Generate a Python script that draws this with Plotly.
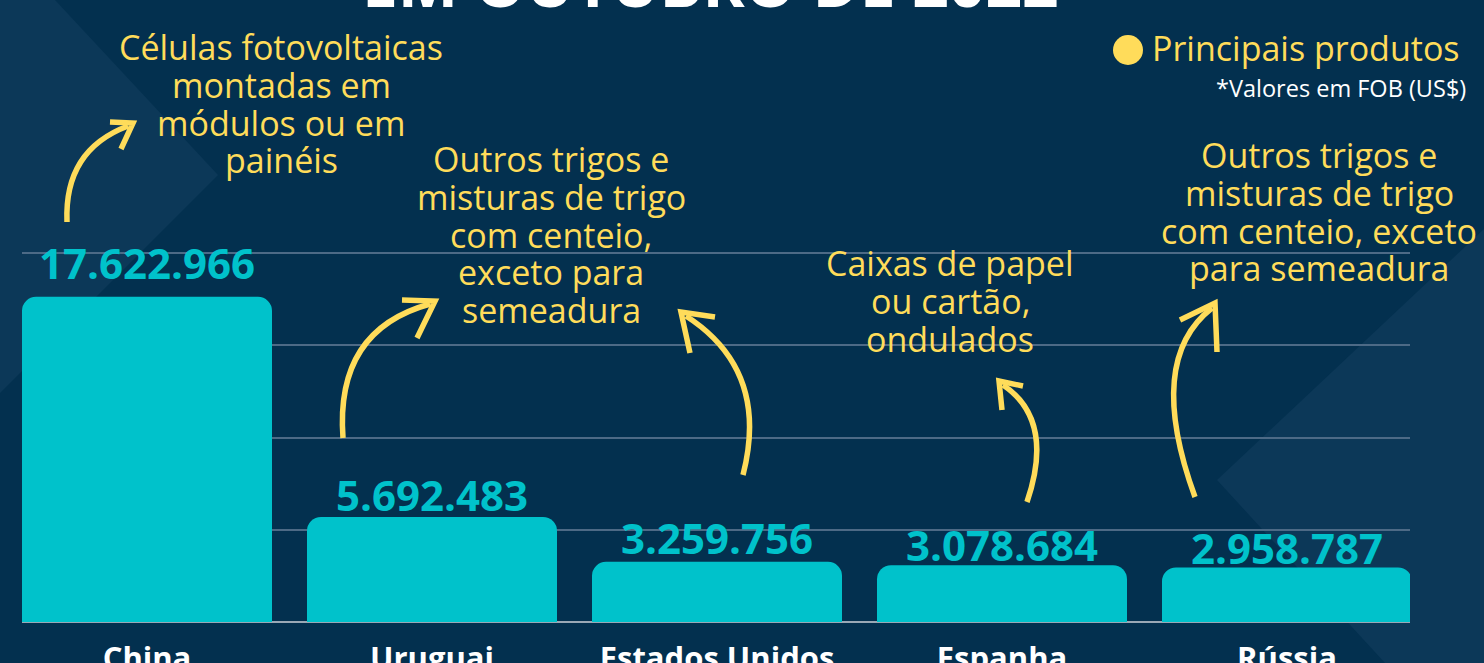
import plotly.graph_objects as go

# ---- data ----
countries = ["China", "Uruguai", "Estados Unidos", "Espanha", "Rússia"]
values_fob = [17622966, 5692483, 3259756, 3078684, 2958787]
products = [
    "Células fotovoltaicas<br>montadas em<br>módulos ou em<br>painéis",
    "Outros trigos e<br>misturas de trigo<br>com centeio,<br>exceto para<br>semeadura",
    "Caixas de papel<br>ou cartão,<br>ondulados",
    "Outros trigos e<br>misturas de trigo<br>com centeio, exceto<br>para semeadura",
]
grid_vals = [0, 5e6, 10e6, 15e6, 20e6]

# ---- styling / layout constants ----
W, H = 1484, 663
L, R, T, B = 22, 1410, 0, 622
BG = "#03304f"
BG_LIGHT = "#0c3858"
TEAL = "#00c2cb"
YELLOW = "#ffdc5a"
SLOT = 285.0           # px per category
PX_PER_M = 18.45       # px per million
FONT = "Open Sans"
label_lift = [34, 22, 24, 21, 20]   # px between bar top and value label centre

xr0 = -(147 - L) / SLOT
xr1 = xr0 + (R - L) / SLOT
yr1 = (B - T) / PX_PER_M * 1e6


def px(x):
    return (x - L) / (R - L)


def py(y):
    return (B - y) / (B - T)


def fmt_br(v):
    return f"{v:,.0f}".replace(",", ".")


fig = go.Figure()
fig.add_trace(go.Bar(
    x=list(range(len(countries))),
    y=values_fob,
    marker=dict(color=TEAL, cornerradius=14, line=dict(width=0)),
    hoverinfo="skip",
))

shapes = []
# background decorative polygons
bg_polys = [
    [(0, 0), (55, 0), (218, 175), (0, 393)],
    [(W, 229), (1217, 480), (1385, H), (W, H)],
]
for poly in bg_polys:
    d = "M " + " L ".join(f"{px(x)},{py(y)}" for x, y in poly) + " Z"
    shapes.append(dict(type="path", xref="paper", yref="paper", path=d,
                       fillcolor=BG_LIGHT, line=dict(width=0), layer="below"))

# curved arrows: (start, control, end), head (wing1, tip, wing2)
arrows = [
    ((67, 222), (64, 150), (128, 126), ((110, 122), (133, 123), (121, 149))),
    ((343, 438), (335, 330), (430, 304), ((402, 300), (435, 301), (417, 338))),
    ((743, 475), (770, 370), (686, 316), ((715, 317), (681, 312), (690, 353))),
    ((1027, 502), (1055, 420), (1003, 385), ((1023, 386), (999, 381), (1002, 410))),
    ((1195, 497), (1145, 360), (1212, 308), ((1180, 320), (1215, 303), (1217, 352))),
]
for p0, c, p1, head in arrows:
    d = f"M {px(p0[0])},{py(p0[1])} Q {px(c[0])},{py(c[1])} {px(p1[0])},{py(p1[1])}"
    shapes.append(dict(type="path", xref="paper", yref="paper", path=d,
                       line=dict(color=YELLOW, width=5.5)))
    w1, tip, w2 = head
    d = (f"M {px(w1[0])},{py(w1[1])} L {px(tip[0])},{py(tip[1])} "
         f"L {px(w2[0])},{py(w2[1])}")
    shapes.append(dict(type="path", xref="paper", yref="paper", path=d,
                       line=dict(color=YELLOW, width=5.5)))

# legend dot
shapes.append(dict(type="circle", xref="paper", yref="paper",
                   x0=px(1113), x1=px(1143), y0=py(65), y1=py(35),
                   fillcolor=YELLOW, line=dict(width=0)))

annotations = []
# value labels above bars (data coordinates)
for i, (v, lift) in enumerate(zip(values_fob, label_lift)):
    annotations.append(dict(text=f"<b>{fmt_br(v)}</b>", x=i, y=v,
                            xref="x", yref="y", xanchor="center", yanchor="middle",
                            yshift=lift, showarrow=False,
                            font=dict(family=FONT, size=42, color=TEAL)))
# title (mostly cut off at top)
annotations.append(dict(text="<b>EM OUTUBRO DE 2022</b>", xref="paper", yref="paper",
                        x=px(710), y=py(-17), xanchor="center", yanchor="middle",
                        showarrow=False,
                        font=dict(family=FONT, size=64, color="white")))
# product annotations, one line each (tight line spacing)
prod_pos = [(281, 47), (551, 159), (950, 263), (1319, 155)]
LINE_GAP = 37.8
for txt, (x, y0) in zip(products, prod_pos):
    for i, line in enumerate(txt.split("<br>")):
        annotations.append(dict(text=line, xref="paper", yref="paper",
                                x=px(x), y=py(y0 + i * LINE_GAP),
                                xanchor="center", yanchor="middle",
                                showarrow=False, align="center",
                                font=dict(family=FONT, size=34, color=YELLOW)))
annotations.append(dict(text="Principais produtos", xref="paper", yref="paper",
                        x=px(1150), y=py(48), xanchor="left", yanchor="middle",
                        showarrow=False,
                        font=dict(family=FONT, size=34, color=YELLOW)))
annotations.append(dict(text="*Valores em FOB (US$)", xref="paper", yref="paper",
                        x=px(1468), y=py(88), xanchor="right", yanchor="middle",
                        showarrow=False,
                        font=dict(family=FONT, size=23.5, color="white")))

fig.update_layout(
    width=W, height=H,
    margin=dict(l=L, r=W - R, t=T, b=H - B, pad=0, autoexpand=False),
    paper_bgcolor=BG, plot_bgcolor="rgba(0,0,0,0)",
    bargap=1 - 250 / SLOT,
    showlegend=False,
    shapes=shapes,
    annotations=annotations,
    xaxis=dict(range=[xr0, xr1], tickvals=list(range(len(countries))),
               ticktext=[f"<b>{c}</b>" for c in countries],
               tickfont=dict(family=FONT, size=31, color="white"),
               showgrid=False, zeroline=False, showline=False,
               ticks="outside", ticklen=9, tickcolor="rgba(0,0,0,0)",
               automargin=False, fixedrange=True),
    yaxis=dict(range=[0, yr1], tickvals=grid_vals, showticklabels=False,
               showgrid=True, gridcolor="#4d6a86", gridwidth=1.5,
               zeroline=True, zerolinecolor="#9aa8b6", zerolinewidth=2,
               showline=False, automargin=False, fixedrange=True),
)

fig.write_html(
    "out.html",
    config={"displayModeBar": False},
    post_script="document.body.style.margin='0';document.body.style.overflow='hidden';",
)
